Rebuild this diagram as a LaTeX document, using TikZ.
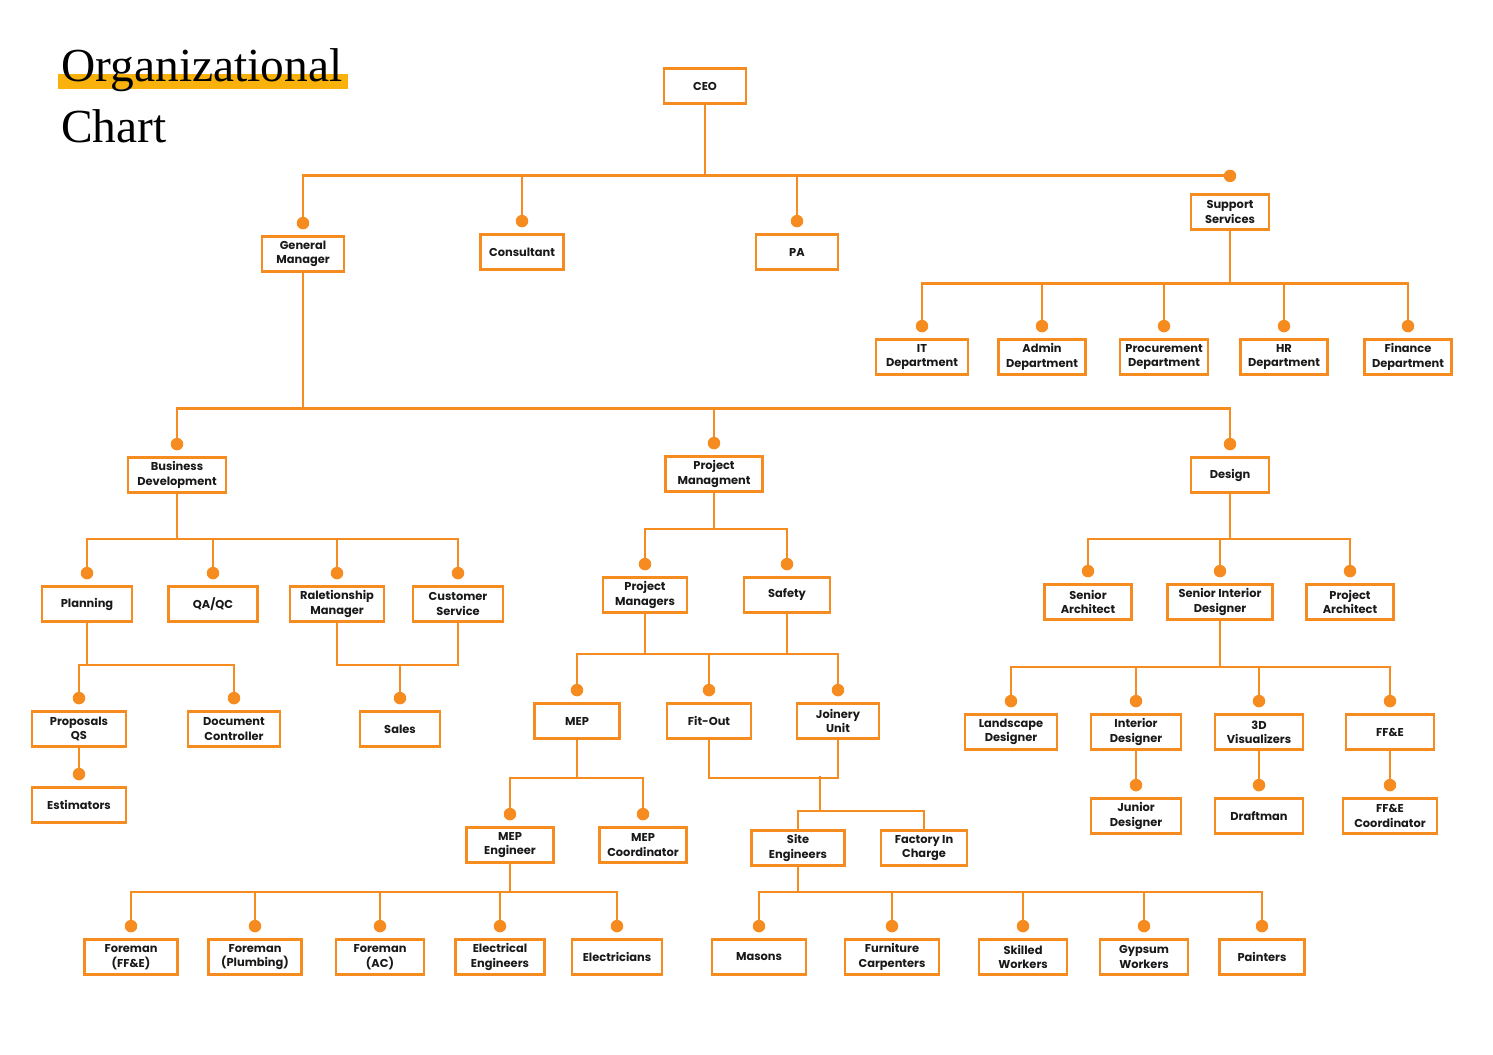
\documentclass[tikz,border=0pt]{standalone}
\usepackage{fontspec}
\setmainfont{Liberation Serif}
\newfontfamily\boxfont{Poppins}
\definecolor{orgorange}{HTML}{F68B1F}
\definecolor{titlebar}{HTML}{F9B10B}
\tikzset{
  unit/.style={draw=orgorange, line width=1.6pt, fill=white, align=center,
    minimum width=1.76cm, minimum height=0.7cm, inner sep=2pt, text=black!90,
    font=\boxfont\bfseries\fontsize{6.5}{8.2}\selectfont},
  wd/.style={minimum width=0.02cm*#1},
  link/.style={draw=orgorange, line width=1.6pt},
  dot/.style={circle, fill=orgorange, inner sep=0pt, minimum size=0.25cm},
}
\begin{document}
\begin{tikzpicture}[x=0.02cm, y=-0.02cm]
  \def\DotGap{0.24cm}
  \useasboundingbox (0,0) rectangle (1493,1054);
  % title
  \fill[titlebar] (58,74) rectangle (348,89);
  \node[anchor=base west, inner sep=0pt, font=\fontsize{27}{27}\selectfont] (title) at (61,82) {Organizational};
  \node[anchor=base west, inner sep=0pt, font=\fontsize{27}{27}\selectfont] (chart) at (61,143) {Chart};

  % top level
  \node[unit, wd=82] (ceo) at (705,86) {CEO};
  \node[unit, wd=82] (gm) at (303,254) {General\\Manager};
  \node[unit, wd=83] (cons) at (522,252) {Consultant};
  \node[unit, wd=82] (pa) at (797,252) {PA};
  \node[unit, wd=78] (sup) at (1230,212) {Support\\Services};

  % support services
  \node[unit, wd=92] (it) at (922,357) {IT\\Department};
  \node[unit, wd=87] (adm) at (1042,357) {Admin\\Department};
  \node[unit, wd=88] (proc) at (1164,357) {Procurement\\Department};
  \node[unit, wd=87] (hr) at (1284,357) {HR\\Department};
  \node[unit, wd=87] (fin) at (1408,357) {Finance\\Department};

  % general manager
  \node[unit, wd=98] (bd) at (177,475) {Business\\Development};
  \node[unit, wd=97] (pm) at (714,474) {Project\\Managment};
  \node[unit, wd=78] (des) at (1230,475) {Design};

  % business development
  \node[unit, wd=90] (plan) at (87,604) {Planning};
  \node[unit, wd=89] (qa) at (213,604) {QA/QC};
  \node[unit, wd=94] (rel) at (337,604) {Raletionship\\Manager};
  \node[unit, wd=90] (cust) at (458,604) {Customer\\Service};
  \node[unit, wd=94] (prop) at (79,729) {Proposals\\QS};
  \node[unit, wd=92] (doc) at (234,729) {Document\\Controller};
  \node[unit, wd=94] (est) at (79,805) {Estimators};
  \node[unit, wd=80] (sales) at (400,729) {Sales};

  % project managment
  \node[unit, wd=84] (pms) at (645,595) {Project\\Managers};
  \node[unit, wd=86] (saf) at (787,595) {Safety};
  \node[unit, wd=85] (mep) at (577,721) {MEP};
  \node[unit, wd=84] (fit) at (709,721) {Fit-Out};
  \node[unit, wd=82] (join) at (838,721) {Joinery\\Unit};
  \node[unit, wd=87] (mepe) at (510,845) {MEP\\Engineer};
  \node[unit, wd=87] (mepc) at (643,845) {MEP\\Coordinator};
  \node[unit, wd=93] (site) at (798,848) {Site\\Engineers};
  \node[unit, wd=86] (fac) at (924,848) {Factory In\\Charge};
  \node[unit, wd=93] (fmf) at (131,957) {Foreman\\(FF\&E)};
  \node[unit, wd=93] (fmp) at (255,957) {Foreman\\(Plumbing)};
  \node[unit, wd=88] (fma) at (380,957) {Foreman\\(AC)};
  \node[unit, wd=89] (elen) at (500,957) {Electrical\\Engineers};
  \node[unit, wd=90] (elec) at (617,957) {Electricians};
  \node[unit, wd=94] (mas) at (759,957) {Masons};
  \node[unit, wd=94] (furn) at (892,957) {Furniture\\Carpenters};
  \node[unit, wd=88] (skil) at (1023,957) {Skilled\\Workers};
  \node[unit, wd=88] (gyps) at (1144,957) {Gypsum\\Workers};
  \node[unit, wd=85] (pnt) at (1262,957) {Painters};

  % design
  \node[unit, wd=87] (sarch) at (1088,602) {Senior\\Architect};
  \node[unit, wd=105] (sid) at (1220,602) {Senior Interior\\Designer};
  \node[unit, wd=87] (parch) at (1350,602) {Project\\Architect};
  \node[unit, wd=92] (land) at (1011,732) {Landscape\\Designer};
  \node[unit, wd=90] (intd) at (1136,732) {Interior\\Designer};
  \node[unit, wd=88] (vis) at (1259,732) {3D\\Visualizers};
  \node[unit, wd=88] (ffe) at (1390,732) {FF\&E};
  \node[unit, wd=90] (jun) at (1136,816) {Junior\\Designer};
  \node[unit, wd=88] (draft) at (1259,816) {Draftman};
  \node[unit, wd=94] (ffec) at (1390,816) {FF\&E\\Coordinator};

  % connectors
  \draw[link] (ceo.south) -- ++(0,71) coordinate (ceobus);
  \foreach \c in {gm,cons,pa}
    \draw[link] (ceobus) -| ([yshift=\DotGap]\c.north) node[dot]{};
  \draw[link] (ceobus) -- (ceobus -| sup.north) node[dot]{};

  \draw[link] (sup.south) -- ++(0,53) coordinate (supbus);
  \foreach \c in {it,adm,proc,hr,fin}
    \draw[link] (supbus) -| ([yshift=\DotGap]\c.north) node[dot]{};

  \draw[link] (gm.south) -- ++(0,136) coordinate (gmbus);
  \foreach \c in {bd,pm,des}
    \draw[link] (gmbus) -| ([yshift=\DotGap]\c.north) node[dot]{};

  \draw[link] (bd.south) -- ++(0,45) coordinate (bdbus);
  \foreach \c in {plan,qa,rel,cust}
    \draw[link] (bdbus) -| ([yshift=\DotGap]\c.north) node[dot]{};

  \draw[link] (plan.south) -- ++(0,42) coordinate (planbus);
  \foreach \c in {prop,doc}
    \draw[link] (planbus) -| ([yshift=\DotGap]\c.north) node[dot]{};
  \draw[link] (prop.south) -- ([yshift=\DotGap]est.north) node[dot]{};

  \draw[link] (rel.south) -- ++(0,42) coordinate (rcbus) -| (cust.south);
  \draw[link] (rcbus -| sales.north) -- ([yshift=\DotGap]sales.north) node[dot]{};

  \draw[link] (pm.south) -- ++(0,36) coordinate (pmbus);
  \foreach \c in {pms,saf}
    \draw[link] (pmbus) -| ([yshift=\DotGap]\c.north) node[dot]{};

  \draw[link] (pms.south) -- ++(0,40) coordinate (pmsbus) -| (saf.south);
  \foreach \c in {mep,fit,join}
    \draw[link] (pmsbus) -| ([yshift=\DotGap]\c.north) node[dot]{};

  \draw[link] (mep.south) -- ++(0,38) coordinate (mepbus);
  \foreach \c in {mepe,mepc}
    \draw[link] (mepbus) -| ([yshift=\DotGap]\c.north) node[dot]{};

  \draw[link] (fit.south) -- ++(0,38) coordinate (fjbus) -| (join.south);
  \coordinate (fjdrop) at (820,776);
  \draw[link] (fjdrop) -- ++(0,35) coordinate (sfbus);
  \foreach \c in {site,fac}
    \draw[link] (sfbus) -| (\c.north);

  \draw[link] (mepe.south) -- ++(0,28) coordinate (mepebus);
  \foreach \c in {fmf,fmp,fma,elen,elec}
    \draw[link] (mepebus) -| ([yshift=\DotGap]\c.north) node[dot]{};

  \draw[link] (site.south) -- ++(0,25) coordinate (sitebus);
  \foreach \c in {mas,furn,skil,gyps,pnt}
    \draw[link] (sitebus) -| ([yshift=\DotGap]\c.north) node[dot]{};

  \draw[link] (des.south) -- ++(0,45) coordinate (desbus);
  \foreach \c in {sarch,sid,parch}
    \draw[link] (desbus) -| ([yshift=\DotGap]\c.north) node[dot]{};

  \draw[link] (sid.south) -- ++(0,46) coordinate (sidbus);
  \foreach \c in {land,intd,vis,ffe}
    \draw[link] (sidbus) -| ([yshift=\DotGap]\c.north) node[dot]{};
  \draw[link] (intd.south) -- ([yshift=\DotGap]jun.north) node[dot]{};
  \draw[link] (vis.south) -- ([yshift=\DotGap]draft.north) node[dot]{};
  \draw[link] (ffe.south) -- ([yshift=\DotGap]ffec.north) node[dot]{};
\end{tikzpicture}
\end{document}
